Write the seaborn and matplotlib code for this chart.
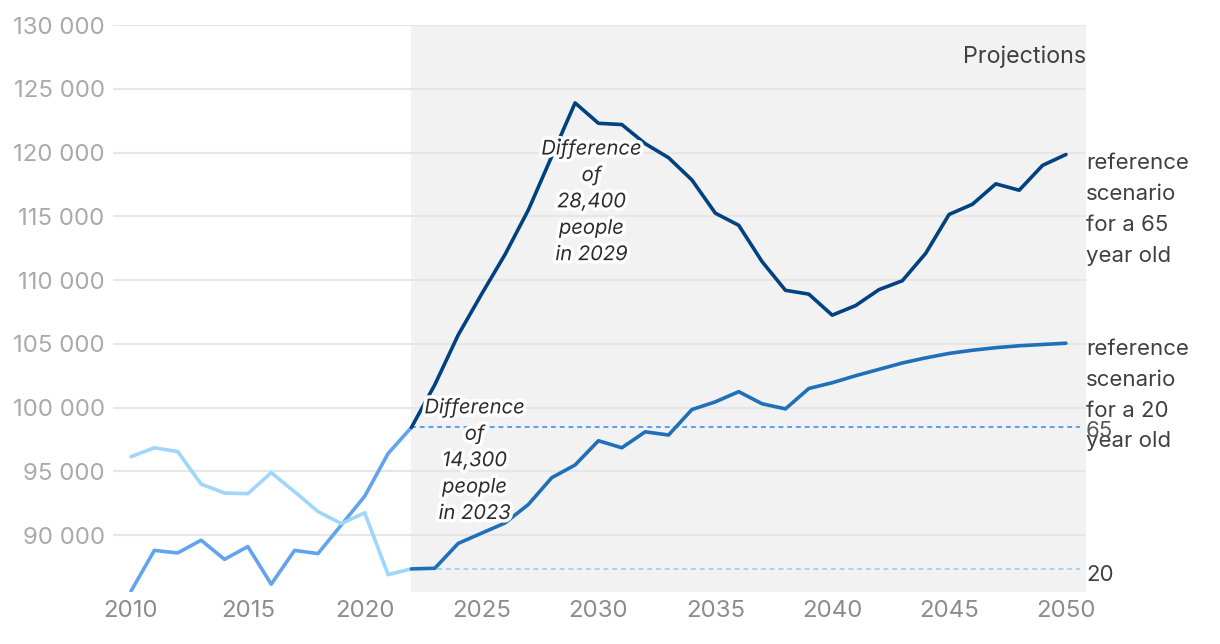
import pandas as pd
import matplotlib
matplotlib.use('Agg')
import matplotlib.pyplot as plt
import matplotlib.patheffects as pe
from matplotlib.ticker import FuncFormatter
import seaborn as sns

# Data
hist_years = list(range(2010, 2023))
hist_65 = [85600, 88800, 88600, 89600, 88100, 89100, 86150, 88800, 88550,
           90800, 93050, 96400, 98450]
hist_20 = [96150, 96850, 96550, 94000, 93300, 93250, 94900, 93400, 91850,
           90900, 91750, 86900, 87350]

proj_years = list(range(2022, 2051))
proj_65 = [98450, 101800, 105700, 108900, 112000, 115500, 119700, 123900,
           122300, 122200, 120700, 119600, 117850, 115250, 114300, 111450,
           109200, 108900, 107250, 108000, 109250, 109950, 112100, 115150,
           115950, 117550, 117050, 119000, 119850]
proj_20 = [87350, 87400, 89350, 90150, 90950, 92400, 94500, 95500, 97400,
           96850, 98100, 97850, 99850, 100450, 101250, 100300, 99900, 101500,
           101950, 102500, 103000, 103500, 103900, 104250, 104500, 104700,
           104850, 104950, 105050]

ref_65 = 98450
ref_20 = 87350

hist_df = pd.DataFrame({'Year': hist_years * 2,
                        'Value': hist_65 + hist_20,
                        'Series': ['65'] * len(hist_years) + ['20'] * len(hist_years)})
proj_df = pd.DataFrame({'Year': proj_years * 2,
                        'Value': proj_65 + proj_20,
                        'Series': ['65'] * len(proj_years) + ['20'] * len(proj_years)})

sns.set_style('white')
plt.rcParams['font.family'] = ['Inter', 'DejaVu Sans']

fig = plt.figure(figsize=(12.2, 6.44), dpi=100)
ax = fig.add_axes([0.0926, 0.081, 0.7976, 0.880])

x_left, x_right = 2009.23, 2050.86
ax.set_xlim(x_left, x_right)
ax.set_ylim(85550, 130000)

# projection shading
ax.axvspan(2022, x_right, color='#f2f2f2', zorder=0, lw=0)

ax.set_yticks(range(90000, 130001, 5000))
ax.set_xticks(range(2010, 2051, 5))
ax.yaxis.set_major_formatter(FuncFormatter(lambda v, p: f'{int(v):,}'.replace(',', ' ')))
ax.grid(axis='y', color='#e6e6e6', lw=1.5, zorder=1)
ax.grid(axis='x', visible=False)
ax.set_axisbelow(True)
for s in ax.spines.values():
    s.set_visible(False)
ax.tick_params(length=0, labelsize=17.3, pad=6)
ax.tick_params(axis='y', colors='#aaaaaa')
ax.tick_params(axis='x', colors='#8c8c8c')

# reference dotted lines
ax.hlines(ref_65, 2022, 2050.6, colors='#5b9fef', linestyles=(0, (2.5, 2)), lw=1.4, zorder=2)
ax.hlines(ref_20, 2022, 2050.6, colors='#9fd6fb', linestyles=(0, (2.5, 2)), lw=1.4, zorder=2)

sns.lineplot(data=hist_df, x='Year', y='Value', hue='Series',
             palette={'65': '#62a3ef', '20': '#9fd6fb'}, lw=2.6, legend=False, ax=ax, zorder=3)
sns.lineplot(data=proj_df, x='Year', y='Value', hue='Series',
             palette={'65': '#00427f', '20': '#1f70b9'}, lw=2.6, legend=False, ax=ax, zorder=4)
ax.set_xlabel('')
ax.set_ylabel('')

txt = dict(fontsize=16, color='#404040')
ax.text(x_right, 127500, 'Projections', ha='right', va='center', fontsize=16.8, color='#404040')
ax.text(x_right, 119950, 'reference\nscenario\nfor a 65\nyear old', ha='left', va='top',
        linespacing=1.68, clip_on=False, **txt)
ax.text(x_right, 105400, 'reference\nscenario\nfor a 20\nyear old', ha='left', va='top',
        linespacing=1.68, clip_on=False, **txt)
ax.text(x_right, ref_65 - 250, '65', ha='left', va='center', clip_on=False,
        fontsize=16, color='#5a5a5a')
ax.text(x_right, ref_20 - 450, '20', ha='left', va='center', clip_on=False, **txt)

stroke = [pe.withStroke(linewidth=5, foreground='white')]
ann = dict(ha='center', va='center', fontsize=14.5, style='italic', color='#2b2b2b',
           linespacing=1.6, path_effects=stroke, zorder=6)
ax.text(2029.7, 116100, 'Difference\nof\n28,400\npeople\nin 2029', **ann)
ax.text(2024.7, 95800, 'Difference\nof\n14,300\npeople\nin 2023', **ann)

fig.savefig('out.png', dpi=100)
